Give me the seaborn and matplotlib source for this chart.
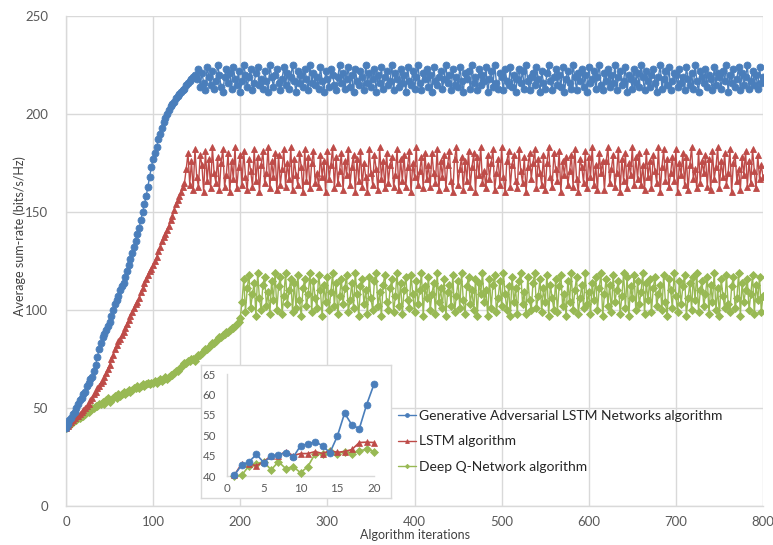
import numpy as np
import pandas as pd
import matplotlib
matplotlib.use("Agg")
import matplotlib.pyplot as plt
import seaborn as sns

# ---------------- data ----------------
iterations = list(range(0, 801, 2))

gan_lstm = [
    40, 42, 44, 45, 47, 48, 50, 52, 54, 55, 57, 58, 61, 63, 65,
    66, 69, 72, 76, 80, 83, 86, 88, 90, 92, 94, 97, 100, 103, 105,
    107, 110, 112, 114, 117, 120, 123, 126, 129, 132, 135, 139, 142, 146, 150,
    154, 158, 163, 168, 173, 177, 180, 183, 187, 190, 193, 196, 198, 200, 202,
    204, 205, 206, 208, 209, 210, 211, 212, 213, 215, 216, 217, 218, 219, 220,
    218, 223, 214, 221, 216, 212, 224, 219, 215, 222, 213, 217, 225, 220, 214, 211, 219, 223, 216, 221,
    213, 224, 218, 215, 222, 211, 217, 225, 220, 214, 219, 223, 212, 216, 221, 224, 215, 218, 213, 222,
    217, 211, 225, 219, 214, 220, 223, 216, 212, 218, 224, 215, 221, 213, 219, 225, 217, 211, 222, 216,
    220, 214, 223, 218, 212, 225, 216, 221, 215, 219, 213, 224, 217, 211, 222, 218, 214, 223, 220, 215,
    212, 219, 225, 216, 221, 213, 218, 224, 214, 220, 211, 223, 217, 215, 222, 219, 212, 225, 216, 221,
    214, 218, 223, 211, 220, 216, 224, 213, 219, 222, 215, 217, 225, 212, 221, 218, 214, 223, 216, 220,
    211, 224, 217, 215, 222, 213, 219, 225, 216, 212, 221, 218, 223, 214, 220, 211, 224, 217, 215, 219,
    222, 213, 218, 225, 216, 220, 212, 223, 215, 219, 214, 224, 217, 211, 221, 218, 222, 213, 225, 216,
    219, 212, 223, 215, 220, 217, 224, 211, 218, 222, 214, 225, 216, 213, 221, 219, 212, 223, 217, 215,
    224, 214, 220, 211, 218, 223, 216, 222, 213, 225, 217, 212, 219, 221, 215, 224, 218, 211, 222, 216,
    213, 221, 225, 217, 212, 219, 223, 215, 220, 214, 224, 211, 218, 222, 216, 213, 225, 219, 212, 221,
    217, 223, 214, 220, 211, 224, 216, 218, 222, 213, 219, 225, 215, 212, 221, 217, 223, 214, 220, 216,
    225, 212, 219, 222, 215, 217, 224, 211, 220, 218, 213, 223, 216, 221, 214, 225, 219, 212, 222, 217,
    214, 220, 223, 216, 211, 219, 225, 213, 218, 222, 215, 224, 212, 217, 221, 220, 214, 223, 216, 219,
    212, 224, 218, 215, 221, 213, 225, 217, 211, 222, 219, 216, 223, 214, 220, 218, 212, 224, 215, 221,
    219, 213, 222, 217, 225, 211, 220, 216, 223, 214, 218, 224, 212, 221, 215, 219, 225, 213, 217, 222,
    215, 220, 213, 224, 216, 219]

lstm = [
    40, 41, 42, 43, 44, 45, 46, 46, 47, 48, 49, 50, 51, 52, 54,
    55, 57, 58, 60, 61, 63, 64, 66, 68, 70, 72, 75, 77, 80, 82,
    84, 85, 87, 89, 91, 93, 95, 97, 99, 101, 103, 104, 106, 109, 111,
    114, 116, 118, 120, 121, 123, 125, 127, 130, 132, 135, 137, 139, 141, 143,
    146, 148, 151, 154, 156, 158, 160, 163, 165,
    172, 180, 164, 176, 161, 182, 168, 163, 179, 174, 160, 181, 166, 177, 162, 183, 170, 165, 178, 161,
    175, 182, 163, 169, 180, 160, 176, 167, 183, 162, 173, 179, 164, 181, 168, 161, 177, 171, 163, 182,
    166, 178, 160, 174, 181, 165, 170, 183, 162, 176, 168, 180, 161, 179, 164, 172, 182, 163, 175, 167,
    183, 161, 177, 169, 164, 180, 173, 160, 182, 166, 178, 162, 175, 181, 165, 170, 163, 179, 168, 176,
    160, 181, 167, 174, 183, 162, 178, 165, 171, 180, 161, 176, 169, 182, 164, 173, 179, 160, 177, 166,
    181, 163, 175, 168, 160, 182, 170, 164, 179, 172, 161, 183, 167, 176, 162, 180, 165, 174, 178, 163,
    169, 182, 161, 177, 166, 179, 163, 173, 181, 160, 175, 168, 183, 164, 171, 178, 162, 180, 167, 174,
    163, 180, 170, 165, 182, 161, 176, 168, 179, 162, 174, 181, 166, 160, 177, 183, 164, 172, 178, 161,
    176, 166, 181, 163, 173, 180, 160, 178, 169, 183, 165, 171, 162, 179, 167, 175, 182, 161, 170, 177,
    164, 183, 168, 160, 176, 181, 163, 174, 179, 166, 162, 182, 171, 165, 178, 160, 173, 180, 167, 175,
    182, 162, 177, 170, 164, 179, 161, 175, 183, 168, 163, 180, 172, 166, 181, 160, 176, 169, 178, 164,
    171, 179, 163, 182, 167, 160, 177, 173, 165, 181, 162, 178, 168, 183, 164, 174, 161, 180, 170, 176,
    161, 176, 183, 165, 172, 179, 163, 170, 182, 160, 177, 166, 180, 162, 175, 169, 183, 164, 178, 167,
    180, 164, 174, 161, 181, 168, 176, 162, 179, 171, 165, 183, 160, 173, 182, 166, 177, 163, 170, 178,
    166, 182, 160, 175, 169, 180, 164, 178, 161, 174, 183, 167, 172, 162, 181, 165, 176, 170, 179, 163,
    177, 161, 181, 167, 173, 183, 162, 176, 168, 180, 164, 170, 182, 160, 175, 179, 166, 172, 161, 178,
    169, 181, 163, 176, 165, 182, 171, 162, 179, 167, 174, 168]

dqn = [
    40, 41, 42, 42, 43, 44, 44, 45, 45, 46, 46, 47, 48, 48, 49, 50, 50, 51, 51, 52,
    52, 53, 52, 54, 55, 53, 54, 55, 56, 55, 57, 56, 57, 58, 57, 58, 59, 58, 59, 60,
    60, 61, 60, 61, 62, 61, 62, 63, 62, 63, 63, 64, 63, 64, 65, 64, 65, 66, 65, 66,
    67, 67, 68, 69, 69, 70, 71, 72, 73, 73, 74, 74, 75, 75, 74, 76, 77, 77, 78, 79,
    80, 80, 81, 82, 83, 83, 84, 85, 86, 86, 87, 88, 89, 89, 90, 91, 91, 92, 93, 94,
    96,
    104, 116, 99, 111, 118, 101, 108, 114, 97, 119, 106, 100, 113, 117, 102, 109, 98, 115, 105, 119,
    100, 112, 117, 98, 107, 119, 103, 110, 116, 99, 114, 101, 118, 105, 97, 111, 116, 102, 108, 119,
    99, 115, 106, 101, 118, 110, 97, 113, 104, 117, 100, 109, 119, 102, 114, 98, 107, 116, 103, 111,
    118, 99, 105, 114, 101, 119, 108, 97, 112, 116, 103, 110, 98, 117, 106, 100, 115, 119, 102, 109,
    97, 113, 118, 104, 100, 111, 116, 99, 107, 119, 102, 114, 98, 110, 117, 105, 101, 118, 108, 99,
    115, 103, 110, 119, 97, 112, 106, 117, 100, 108, 114, 98, 119, 104, 111, 101, 116, 97, 109, 113,
    102, 118, 99, 107, 115, 101, 119, 105, 98, 112, 117, 103, 110, 100, 116, 97, 114, 108, 119, 104,
    110, 97, 116, 101, 113, 118, 99, 106, 115, 102, 119, 108, 100, 112, 97, 117, 104, 111, 98, 115,
    119, 103, 109, 98, 117, 105, 100, 114, 119, 101, 107, 116, 99, 111, 104, 118, 97, 113, 106, 100,
    116, 99, 112, 118, 102, 108, 97, 115, 104, 119, 100, 110, 117, 98, 106, 113, 101, 119, 103, 109,
    98, 114, 105, 117, 100, 111, 119, 97, 108, 116, 102, 113, 99, 118, 104, 110, 115, 98, 107, 119,
    101, 117, 97, 112, 106, 118, 100, 115, 103, 109, 119, 98, 114, 105, 116, 99, 111, 117, 102, 108,
    113, 100, 118, 104, 97, 116, 110, 101, 119, 107, 99, 115, 103, 112, 118, 97, 106, 114, 100, 117,
    105, 119, 99, 110, 115, 102, 108, 117, 98, 113, 104, 119, 100, 111, 97, 116, 107, 101, 118, 103,
    99, 112, 117, 101, 106, 119, 97, 114, 104, 110, 116, 100, 108, 118, 98, 113, 105, 117, 99, 107]

inset_iter = list(range(1, 21))
inset_gan = [40.2, 42.7, 43.5, 45.3, 43.3, 44.8, 45.2, 45.7, 44.6, 47.4,
             47.9, 48.4, 47.4, 45.7, 49.7, 55.4, 52.5, 51.6, 57.5, 62.5]
inset_lstm = [40.2, 43.0, 43.0, 42.5, 43.5, 45.0, 45.0, 46.0, 45.0, 45.5,
              45.5, 46.0, 45.5, 46.2, 45.8, 46.0, 46.5, 48.2, 48.3, 48.2]
inset_dqn = [40.0, 40.2, 42.5, 43.0, 43.5, 41.5, 43.5, 41.8, 42.3, 40.8,
             42.3, 45.5, 45.3, 46.2, 45.5, 46.0, 45.5, 46.2, 46.5, 46.0]

labels = ["Generative Adversarial LSTM Networks algorithm", "LSTM algorithm", "Deep Q-Network algorithm"]
x_ticks = [0, 100, 200, 300, 400, 500, 600, 700, 800]
y_ticks = [0, 50, 100, 150, 200, 250]
inset_x_ticks = [0, 5, 10, 15, 20]
inset_y_ticks = [40, 45, 50, 55, 60, 65]

# ---------------- style ----------------
sns.set_style("white")
plt.rcParams["font.family"] = ["Lato", "DejaVu Sans"]

colors = ["#4A7EBB", "#BE4B48", "#98B954"]
markers = ["o", "^", "D"]
msizes = [5.0, 5.0, 4.0]
grid_c = "#D9D9D9"
text_c = "#595959"

fig = plt.figure(figsize=(7.73, 5.45), dpi=100)
W, H = 773, 545

def fig_rect(x0, y0, x1, y1):
    return [x0 / W, 1 - y1 / H, (x1 - x0) / W, (y1 - y0) / H]

ax = fig.add_axes(fig_rect(66, 16, 763, 506))

main_series = [gan_lstm, lstm, dqn]
for i, s in enumerate(main_series):
    sns.lineplot(x=iterations, y=s, ax=ax, color=colors[i], marker=markers[i],
                 markersize=msizes[i], markeredgewidth=0.6, markeredgecolor=colors[i],
                 linewidth=1.0, label=labels[i], zorder=3 - i * 0.1)

ax.set_xlim(0, 800)
ax.set_ylim(0, 250)
ax.set_xticks(x_ticks)
ax.set_yticks(y_ticks)
ax.grid(True, color=grid_c, linewidth=1.0)
ax.set_axisbelow(True)
for sp in ["top", "right"]:
    ax.spines[sp].set_visible(False)
for sp in ["left", "bottom"]:
    ax.spines[sp].set_color(grid_c)
    ax.spines[sp].set_linewidth(1.0)
ax.tick_params(axis="y", length=0, pad=13, labelsize=9.5, labelcolor=text_c)
ax.tick_params(axis="x", length=0, pad=7, labelsize=9.5, labelcolor=text_c)
ax.set_xlabel("Algorithm iterations", fontsize=9, color="#404040")
ax.set_ylabel("Average sum-rate (bits/s/Hz)", fontsize=9, color="#404040")
ax.xaxis.set_label_coords(0.5, -0.047)
ax.yaxis.set_label_coords(-0.058, 0.55)

handles, labs = ax.get_legend_handles_labels()
ax.legend_.remove()
leg = fig.legend(handles, labs, loc="upper left", bbox_to_anchor=(392 / W, 1 - 404 / H),
                 frameon=False, fontsize=10, handlelength=1.3, handletextpad=0.25,
                 labelspacing=1.0, markerscale=0.55, borderaxespad=0)
for t in leg.get_texts():
    t.set_color("#262626")

# inset frame
frame = fig.add_axes(fig_rect(201, 365, 391, 498))
frame.set_facecolor("white")
frame.set_xticks([])
frame.set_yticks([])
for sp in frame.spines.values():
    sp.set_color(grid_c)
    sp.set_linewidth(1.0)
frame.set_zorder(5)

ins = fig.add_axes(fig_rect(227, 374, 374, 476))
ins.set_zorder(6)
ins.patch.set_alpha(0)
inset_series = [inset_gan, inset_lstm, inset_dqn]
for i, s in enumerate(inset_series):
    sns.lineplot(x=inset_iter, y=s, ax=ins, color=colors[i], marker=markers[i],
                 markersize=msizes[i], markeredgewidth=0.5, markeredgecolor=colors[i],
                 linewidth=1.2, legend=False, zorder=3 - i * 0.1, clip_on=False)
ins.set_xlim(0, 20)
ins.set_ylim(40, 65)
ins.set_xticks(inset_x_ticks)
ins.set_yticks(inset_y_ticks)
ins.grid(False)
for sp in ["top", "right"]:
    ins.spines[sp].set_visible(False)
for sp in ["left", "bottom"]:
    ins.spines[sp].set_color(grid_c)
    ins.spines[sp].set_linewidth(1.0)
ins.tick_params(axis="both", length=0, labelsize=8.3, labelcolor=text_c)
ins.tick_params(axis="y", pad=8)
ins.tick_params(axis="x", pad=5)

fig.savefig("out.png", dpi=100)
